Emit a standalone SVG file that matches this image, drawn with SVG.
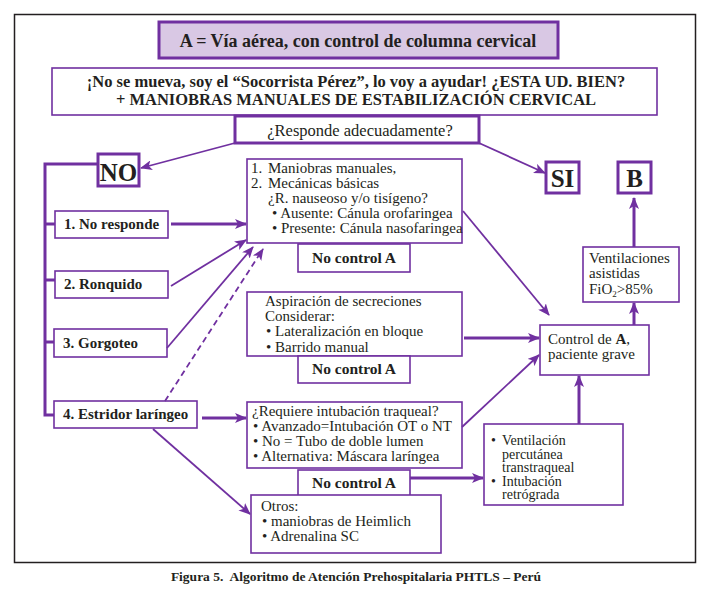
<svg xmlns="http://www.w3.org/2000/svg" width="719" height="589" viewBox="0 0 719 589">
<style>
  .box{fill:#fff;stroke:#7030a0;stroke-width:1.6}
  .tbox{fill:#fff;stroke:#7030a0;stroke-width:3}
  .t{font-family:"Liberation Serif","Times New Roman",serif;fill:#231f20}
  .b{font-weight:bold}
  .s14{font-size:15px}
  .s15{font-size:15px}
  .nc{font-size:15.5px}
  .c{text-anchor:middle}
  .ln{stroke:#7030a0;fill:none}
  .thin{stroke-width:1.8}
  .thick{stroke-width:3}
</style>
<defs>
  <marker id="ah" viewBox="0 0 12 10" refX="11" refY="5" markerWidth="12" markerHeight="10" markerUnits="userSpaceOnUse" orient="auto">
    <path d="M0,0 L12,5 L0,10 L3,5 z" fill="#7030a0"/>
  </marker>
</defs>
<rect width="719" height="589" fill="#fff"/>
<rect x="14.5" y="14.5" width="681" height="548" fill="none" stroke="#231f20" stroke-width="1.5"/>

<g id="title">
  <rect x="159" y="22" width="399" height="36" fill="#d9c8e4" stroke="#7030a0" stroke-width="3"/>
  <text class="t b c" x="358" y="47" font-size="18">A = Vía aérea, con control de columna cervical</text>
</g>
<g id="intro">
  <rect class="box" x="52" y="68" width="605" height="47" stroke-width="2"/>
  <text class="t b c" x="356" y="87" font-size="16.5">¡No se mueva, soy el “Socorrista Pérez”, lo voy a ayudar! ¿ESTA UD. BIEN?</text>
  <text class="t b c" x="356" y="105" font-size="16.5">+ MANIOBRAS MANUALES DE ESTABILIZACIÓN CERVICAL</text>
</g>
<g id="responde">
  <rect class="tbox" x="235" y="116" width="244" height="27"/>
  <text class="t c" x="360" y="136" font-size="16.5">¿Responde adecuadamente?</text>
</g>
<g id="no">
  <rect class="tbox" x="98" y="154" width="41" height="32"/>
  <text class="t b c" x="118.5" y="181" font-size="25">NO</text>
</g>
<g id="si">
  <rect class="tbox" x="546" y="162" width="33" height="31"/>
  <text class="t b c" x="562.5" y="187" font-size="25">SI</text>
</g>
<g id="b">
  <rect class="tbox" x="618" y="162" width="33" height="31"/>
  <text class="t b c" x="634.5" y="187" font-size="25">B</text>
</g>
<g id="n1">
  <rect class="box" x="55" y="211" width="113" height="27"/>
  <text class="t b s15" x="64" y="229">1. No responde</text>
</g>
<g id="n2">
  <rect class="box" x="55" y="271" width="113" height="27"/>
  <text class="t b s15" x="64" y="289">2. Ronquido</text>
</g>
<g id="n3">
  <rect class="box" x="54" y="329" width="113" height="28"/>
  <text class="t b s15" x="63" y="348">3. Gorgoteo</text>
</g>
<g id="n4">
  <rect class="box" x="54" y="401" width="143" height="27"/>
  <text class="t b s15" x="63" y="419">4. Estridor laríngeo</text>
</g>
<g id="maniobras">
  <rect class="box" x="247" y="159" width="215" height="84"/>
  <text class="t s14" x="251" y="173">1.</text><text class="t s14" x="268" y="173">Maniobras manuales,</text>
  <text class="t s14" x="251" y="188">2.</text><text class="t s14" x="268" y="188">Mecánicas básicas</text>
  <text class="t s14" x="268" y="203">¿R. nauseoso y/o tisígeno?</text>
  <text class="t s14" x="272" y="218">• Ausente: Cánula orofaringea</text>
  <text class="t s14" x="272" y="233">• Presente: Cánula nasofaringea</text>
</g>
<g id="nc1">
  <rect class="box" x="298" y="244" width="112" height="28"/>
  <text class="t b c nc" x="354" y="263">No control A</text>
</g>
<g id="aspiracion">
  <rect class="box" x="247" y="292" width="215" height="64"/>
  <text class="t s14" x="265" y="306">Aspiración de secreciones</text>
  <text class="t s14" x="265" y="321">Considerar:</text>
  <text class="t s14" x="266" y="336">• Lateralización en bloque</text>
  <text class="t s14" x="266" y="352">• Barrido manual</text>
</g>
<g id="nc2">
  <rect class="box" x="298" y="356" width="112" height="27"/>
  <text class="t b c nc" x="354" y="374">No control A</text>
</g>
<g id="requiere">
  <rect class="box" x="247" y="402" width="215" height="66"/>
  <text class="t s14" x="252" y="416">¿Requiere intubación traqueal?</text>
  <text class="t s14" x="253" y="431">• Avanzado=Intubación OT o NT</text>
  <text class="t s14" x="253" y="446">• No = Tubo de doble lumen</text>
  <text class="t s14" x="253" y="461">• Alternativa: Máscara laríngea</text>
</g>
<g id="nc3">
  <rect class="box" x="298" y="470" width="112" height="27"/>
  <text class="t b c nc" x="354" y="488">No control A</text>
</g>
<g id="otros">
  <rect class="box" x="251" y="495" width="190" height="58"/>
  <text class="t s14" x="261" y="511">Otros:</text>
  <text class="t s14" x="262" y="526">• maniobras de Heimlich</text>
  <text class="t s14" x="262" y="541">• Adrenalina SC</text>
</g>
<g id="percutanea" font-size="14">
  <rect class="box" x="484" y="424" width="139" height="81"/>
  <text class="t" x="491" y="445">•</text>
  <text class="t" x="502" y="445">Ventilación</text>
  <text class="t" x="502" y="458.5">percutánea</text>
  <text class="t" x="502" y="472">transtraqueal</text>
  <text class="t" x="491" y="485.5">•</text>
  <text class="t" x="502" y="485.5">Intubación</text>
  <text class="t" x="502" y="499">retrógrada</text>
</g>
<g id="control">
  <rect class="box" x="540" y="325" width="109" height="50"/>
  <text class="t s14" x="548" y="344">Control de <tspan class="b">A</tspan>,</text>
  <text class="t s14" x="548" y="359">paciente grave</text>
</g>
<g id="ventilaciones">
  <rect class="box" x="583" y="247" width="96" height="55"/>
  <text class="t s14" x="589" y="263">Ventilaciones</text>
  <text class="t s14" x="589" y="278">asistidas</text>
  <text class="t s14" x="589" y="294">FiO<tspan font-size="9" dy="3">2</tspan><tspan dy="-3">&gt;85%</tspan></text>
</g>

<g id="connectors">
  <path class="ln thick" d="M97,164 H45 V415 H54 M45,224 H55 M45,280 H55 M45,342 H54"/>
  <line class="ln thin" x1="235" y1="143" x2="141" y2="168" marker-end="url(#ah)"/>
  <line class="ln thin" x1="479" y1="143" x2="545" y2="173" marker-end="url(#ah)"/>
  <line class="ln thick" x1="171" y1="224" x2="246" y2="224" marker-end="url(#ah)"/>
  <line class="ln thin" x1="171" y1="286" x2="246" y2="240" marker-end="url(#ah)"/>
  <line class="ln thin" x1="167" y1="348" x2="253" y2="247" marker-end="url(#ah)"/>
  <line class="ln thin" x1="165" y1="401" x2="263" y2="249" stroke-dasharray="6,4" marker-end="url(#ah)"/>
  <line class="ln thick" x1="202" y1="418" x2="246" y2="418" marker-end="url(#ah)"/>
  <line class="ln thin" x1="153" y1="429" x2="250" y2="514" marker-end="url(#ah)"/>
  <line class="ln thin" x1="463" y1="211" x2="549" y2="315" marker-end="url(#ah)"/>
  <line class="ln thick" x1="464" y1="338" x2="539" y2="338" marker-end="url(#ah)"/>
  <line class="ln thin" x1="462" y1="427" x2="539" y2="355" marker-end="url(#ah)"/>
  <line class="ln thick" x1="410" y1="478" x2="483" y2="478" marker-end="url(#ah)"/>
  <line class="ln thick" x1="579" y1="424" x2="579" y2="376" marker-end="url(#ah)"/>
  <line class="ln thick" x1="634" y1="325" x2="634" y2="303" marker-end="url(#ah)"/>
  <line class="ln thick" x1="634" y1="247" x2="634" y2="198" marker-end="url(#ah)"/>
</g>

<text class="t b c" x="356" y="581" font-size="13.5">Figura 5.&#160; Algoritmo de Atención Prehospitalaria PHTLS – Perú</text>
</svg>
